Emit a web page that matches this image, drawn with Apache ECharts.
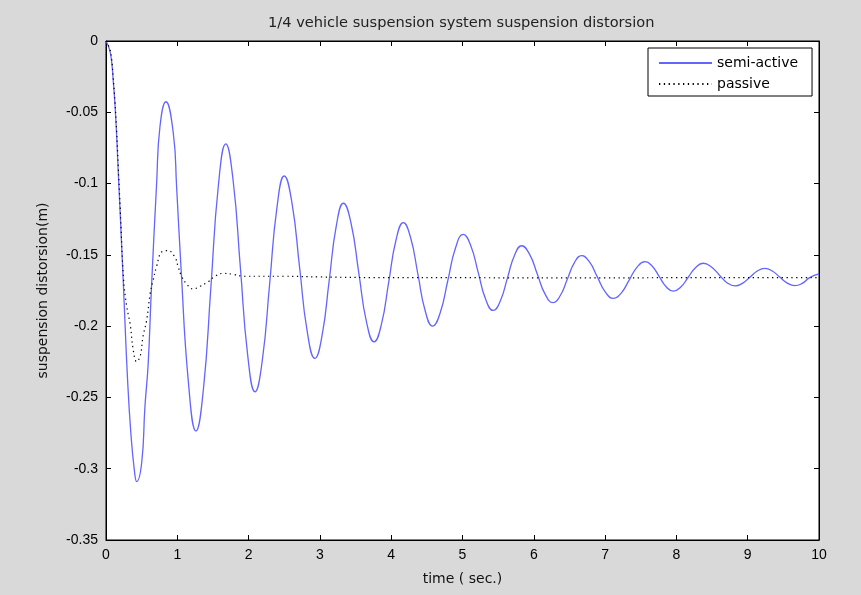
<!DOCTYPE html>
<html>
<head>
<meta charset="utf-8">
<script src="https://cdn.jsdelivr.net/npm/echarts@6/dist/echarts.min.js"></script>
<style>
html,body{margin:0;padding:0;background:#d9d9d9;}
#chart{width:861px;height:595px;}
</style>
</head>
<body>
<div id="chart"></div>
<script>
// ---- data ----
var xTicks = [0,1,2,3,4,5,6,7,8,9,10];
var yTicks = [0,-0.05,-0.1,-0.15,-0.2,-0.25,-0.3,-0.35];

var semiT = [0,0.05,0.08,0.10,0.125,0.15,0.17,0.20,0.25,0.30,0.35,0.40,0.43,0.50,0.546,0.592,0.635,0.71,0.757,0.84,0.944,0.99,1.051,1.1565,
  1.262,1.3665,1.471,1.5755,
  1.68,1.7825,1.885,1.9875,
  2.09,2.1925,2.295,2.3975,
  2.50,2.6075,2.715,2.8225,
  2.93,3.03,3.13,3.23,
  3.33,3.4375,3.545,3.6525,
  3.76,3.8625,3.965,4.0675,
  4.17,4.2725,4.375,4.4775,
  4.58,4.6875,4.795,4.9025,
  5.01,5.115,5.22,5.325,
  5.43,5.53,5.63,5.73,
  5.83,5.94,6.05,6.16,
  6.27,6.37,6.47,6.57,
  6.67,6.781,6.8925,7.004,
  7.115,7.226,7.3375,7.449,
  7.56,7.659,7.758,7.857,
  7.956,8.061,8.166,8.271,
  8.376,8.487,8.598,8.709,
  8.82,8.925,9.03,9.135,
  9.24,9.345,9.45,9.555,
  9.66,9.765,9.87,10];
var semiY = [0,-0.006,-0.015,-0.027,-0.044,-0.067,-0.090,-0.122,-0.178,-0.235,-0.276,-0.302,-0.309,-0.296,-0.2565,-0.226,-0.176,-0.0999,-0.060,-0.0426,-0.0647,-0.102,-0.1581,-0.2398,
  -0.2736,-0.2441,-0.1729,-0.1017,
  -0.0722,-0.0977,-0.1591,-0.2205,
  -0.246,-0.2239,-0.1704,-0.1169,
  -0.0947,-0.1134,-0.1587,-0.2039,
  -0.2226,-0.2067,-0.1682,-0.1297,
  -0.1138,-0.1280,-0.1624,-0.1968,
  -0.211,-0.1988,-0.1692,-0.1396,
  -0.1274,-0.1380,-0.1637,-0.1894,
  -0.200,-0.1906,-0.1678,-0.1450,
  -0.1356,-0.1434,-0.1623,-0.1812,
  -0.189,-0.1824,-0.1663,-0.1502,
  -0.1436,-0.1495,-0.1636,-0.1777,
  -0.1835,-0.1787,-0.1671,-0.1554,
  -0.1506,-0.1550,-0.1656,-0.1761,
  -0.1805,-0.1768,-0.1677,-0.1586,
  -0.1548,-0.1578,-0.1651,-0.1724,
  -0.1754,-0.1726,-0.1657,-0.1588,
  -0.1559,-0.1583,-0.1639,-0.1695,
  -0.1718,-0.1700,-0.1657,-0.1613,
  -0.1595,-0.1613,-0.1656,-0.1698,
  -0.1716,-0.1700,-0.1660,-0.1634];

var passT = [0,0.05,0.08,0.10,0.125,0.15,0.17,0.20,0.245,0.29,0.34,0.38,0.43,0.48,0.52,0.57,0.62,0.66,0.71,0.78,0.87,0.97,1.01,1.06,1.14,1.22,1.32,1.43,1.53,1.64,1.79,1.93,2.5,3,4,5,6,7,8,9,10];
var passY = [0,-0.005,-0.013,-0.025,-0.042,-0.064,-0.086,-0.118,-0.166,-0.186,-0.199,-0.216,-0.225,-0.221,-0.207,-0.196,-0.177,-0.168,-0.158,-0.148,-0.147,-0.152,-0.158,-0.165,-0.171,-0.174,-0.172,-0.169,-0.165,-0.163,-0.1637,-0.165,-0.165,-0.1655,-0.166,-0.166,-0.1662,-0.1662,-0.166,-0.166,-0.166];

var seriesNames = ['semi-active','passive'];
var titleText = '1/4 vehicle suspension system suspension distorsion';
var xName = 'time ( sec.)';
var yName = 'suspension distorsion(m)';

function zip(a,b){var r=[];for(var i=0;i<a.length;i++)r.push([a[i],b[i]]);return r;}

var chart = echarts.init(document.getElementById('chart'), null, {renderer:'canvas'});
var tickFont = '"Liberation Sans", Arial, sans-serif';
var textFont = '"DejaVu Sans", "Liberation Sans", sans-serif';
var tickLab = {color:'#000', fontFamily:tickFont, fontSize:14};
var nameLab = {color:'#111', fontFamily:textFont, fontSize:14};

var option = {
  backgroundColor:'#d9d9d9',
  animation:false,
  title:{text:titleText,left:263,top:11,
    textStyle:{fontFamily:textFont,fontSize:14.6,fontWeight:'normal',color:'#222'}},
  legend:{
    data:seriesNames, orient:'vertical', left:648, top:48,
    backgroundColor:'#fff', borderColor:'#000', borderWidth:1, borderRadius:0,
    padding:[8,14,5,10], itemGap:7, itemWidth:53, itemHeight:14,
    itemStyle:{opacity:0},
    textStyle:{fontFamily:textFont,fontSize:14,color:'#000'}
  },
  grid:{left:106,right:42,top:41,bottom:55,show:true,backgroundColor:'#fff',borderColor:'#000',borderWidth:1},
  xAxis:[{
    type:'value',min:0,max:10,interval:1,
    name:xName,nameLocation:'middle',nameGap:32,nameTextStyle:nameLab,
    axisLine:{show:true,onZero:false,lineStyle:{color:'#000'}},
    axisTick:{show:true,inside:true,length:5,lineStyle:{color:'#000'}},
    axisLabel:Object.assign({margin:8,formatter:function(v){return String(v);}},tickLab),
    splitLine:{show:false}
  },{
    type:'value',position:'top',min:0,max:10,interval:1,
    axisLine:{show:true,onZero:false,lineStyle:{color:'#000'}},
    axisTick:{show:true,inside:true,length:5,lineStyle:{color:'#000'}},
    axisLabel:{show:false},splitLine:{show:false}
  }],
  yAxis:[{
    type:'value',min:-0.35,max:0,interval:0.05,
    name:yName,nameLocation:'middle',nameGap:56,nameRotate:90,nameTextStyle:nameLab,
    axisLine:{show:true,onZero:false,lineStyle:{color:'#000'}},
    axisTick:{show:true,inside:true,length:5,lineStyle:{color:'#000'}},
    axisLabel:Object.assign({margin:8,formatter:function(v){var r=Math.round(v*100)/100;return String(r);}},tickLab),
    splitLine:{show:false}
  },{
    type:'value',position:'right',min:-0.35,max:0,interval:0.05,
    axisLine:{show:true,onZero:false,lineStyle:{color:'#000'}},
    axisTick:{show:true,inside:true,length:5,lineStyle:{color:'#000'}},
    axisLabel:{show:false},splitLine:{show:false}
  }],
  series:[{
    name:seriesNames[0],type:'line',data:zip(semiT,semiY),smooth:0.5,
    symbol:'none',showSymbol:false,
    lineStyle:{color:'#6464ff',width:1.3},itemStyle:{color:'#6464ff'}
  },{
    name:seriesNames[1],type:'line',data:zip(passT,passY),smooth:0.4,
    symbol:'none',showSymbol:false,
    lineStyle:{color:'#000',width:1.2,type:[1.3,3.5]},itemStyle:{color:'#000'}
  }]
};
chart.setOption(option);
</script>
</body>
</html>
